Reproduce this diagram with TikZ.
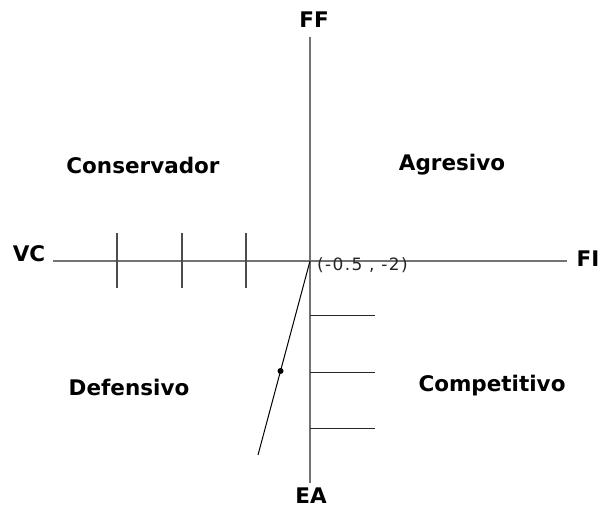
\documentclass[tikz,border=0pt]{standalone}
\usepackage{fontspec}
\setmainfont{DejaVu Sans}
\newfontfamily\pointfont[LetterSpace=8]{DejaVu Sans}
\usetikzlibrary{positioning}

\begin{document}
\begin{tikzpicture}[x=1pt, y=-1pt,
    zone/.style={font=\fontsize{21.5}{24}\selectfont\bfseries, inner sep=0pt},
    axis/.style={draw=black!55, line width=1.8pt},
    tick/.style={draw=black!70, line width=1.4pt},
    rung/.style={draw=black!85, line width=1pt}
]
\useasboundingbox[fill=white] (0,0) rectangle (602,510);

% ejes
\coordinate (o) at (310,261);
\coordinate (west) at (53,261);
\coordinate (east) at (567,261);
\coordinate (north) at (310,37);
\coordinate (south) at (310,483);
\draw[axis] (west) -- (east);
\draw[axis] (north) -- (south);

\node[zone] (ff) at (314,20) {FF};
\node[zone] (ea) at (311,496) {EA};
\node[zone] (vc) at (29,254) {VC};
\node[zone] (fi) at (588,259) {FI};

% cuadrantes
\node[zone] (cons) at (143,165) {Conservador};
\node[zone] (agr) at (452,165) {Agresivo};
\node[zone] (def) at (129,387) {Defensivo};
\node[zone] (comp) at (492,386) {Competitivo};

% marcas
\foreach \x in {117,182,246}
    \draw[tick] (\x,233) -- (\x,288);
\foreach \y in {316,372,428}
    \draw[rung] (310,\y) -- (375,\y);

% vector
\coordinate (tip) at (258,455);
\draw[line width=1pt] (o) -- (tip);
\fill (280.5,371) circle (3pt);
\node[anchor=west, inner sep=0pt, font=\pointfont\fontsize{17}{19}\selectfont, text=black!85] (pt) at (317,265.5) {(-0.5 , -2)};
\end{tikzpicture}
\end{document}
